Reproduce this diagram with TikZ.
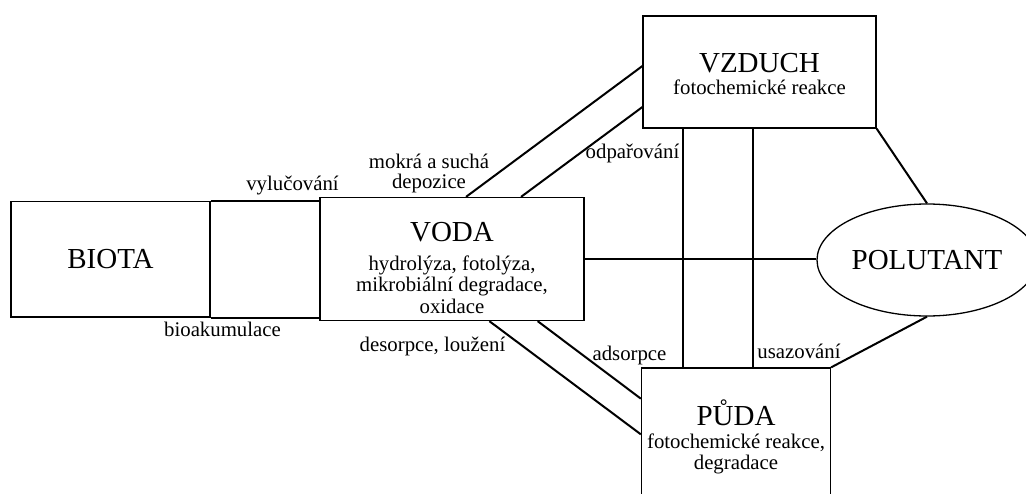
\documentclass[tikz,border=0pt]{standalone}
\usepackage{fontspec}
\setmainfont{Liberation Serif}
\usetikzlibrary{shapes.geometric}

\newcommand{\bigfont}{\fontsize{29}{31}\selectfont}
\newcommand{\smallfont}{\fontsize{20.8}{21.5}\selectfont}

\begin{document}
\begin{tikzpicture}[x=1pt,y=-1pt,
    box/.style={draw,line width=1.3pt,inner sep=0pt,align=center,font=\smallfont},
    link/.style={line width=2pt},
    lbl/.style={inner sep=0pt,font=\smallfont,anchor=base}]
    %%%%% START %%%%%

    \useasboundingbox (0,0) rectangle (1026,493);
    \clip (0,0) rectangle (1026,493);

    % compartments
    \node[box, minimum width=199pt, minimum height=115.5pt] (biota) at (110.5,259.25) {\bigfont BIOTA};
    \node[box, minimum width=264pt, minimum height=123pt] (voda) at (452,259)
        {{\bigfont\rule{0pt}{37pt}VODA}\\[6.8pt]hydrolýza, fotolýza,\\mikrobiální degradace,\\oxidace};
    \node[box, minimum width=233pt, minimum height=112pt] (vzduch) at (759.5,72)
        {{\bigfont\rule{0pt}{23.5pt}VZDUCH}\\[0.8pt]fotochemické reakce};
    \node[box, minimum width=189pt, minimum height=136pt] (puda) at (736,436)
        {{\bigfont\rule{0pt}{27pt}PŮDA}\\[2pt]fotochemické reakce,\\[-1pt]degradace};
    \node[draw, ellipse, line width=1.3pt, inner sep=0pt, minimum width=220pt, minimum height=112pt, font=\bigfont] (polutant) at (927,260) {\makebox[0pt]{POLUTANT}};

    % biota - voda
    \draw[link] (biota.north east) -- (biota.north east -| voda.west);
    \draw[link] (biota.south east) -- (biota.south east -| voda.west);

    % voda - vzduch
    \draw[link] ([xshift=146.7pt]voda.north west) -- ([yshift=-50.7pt]vzduch.north west);
    \draw[link] ([xshift=201.7pt]voda.north west) -- ([yshift=-91.7pt]vzduch.north west);

    % voda - puda
    \draw[link] ([xshift=170pt]voda.south west) -- ([yshift=-67pt]puda.north west);
    \draw[link] ([xshift=218.3pt]voda.south west) -- ([yshift=-31.3pt]puda.north west);

    % voda - polutant
    \draw[link] (voda.east) -- (voda.east -| polutant.west);

    % vzduch - puda
    \coordinate (vzl) at ([xshift=40.5pt]vzduch.south west);
    \coordinate (vzr) at ([xshift=110.5pt]vzduch.south west);
    \draw[link] (vzl) -- (vzl |- puda.north);
    \draw[link] (vzr) -- (vzr |- puda.north);

    % polutant
    \draw[link] (vzduch.south east) -- (polutant.north);
    \draw[link] (puda.north east) -- (polutant.south);

    % labels
    \node[lbl] (vylucovani) at (292.5,190.7) {vylučování};
    \node[lbl] (bioakumulace) at (222.5,336.7) {bioakumulace};
    \node[lbl, anchor=center, align=center] (depozice) at (429,173.5) {mokrá a suchá\\[-1.5pt]depozice};
    \node[lbl] (odparovani) at (632.5,158.3) {odpařování};
    \node[lbl] (desorpce) at (432.5,351.7) {desorpce, loužení};
    \node[lbl] (adsorpce) at (629.5,360.7) {adsorpce};
    \node[lbl] (usazovani) at (799,358.3) {usazování};

    %%%%% END %%%%%
\end{tikzpicture}
\end{document}
